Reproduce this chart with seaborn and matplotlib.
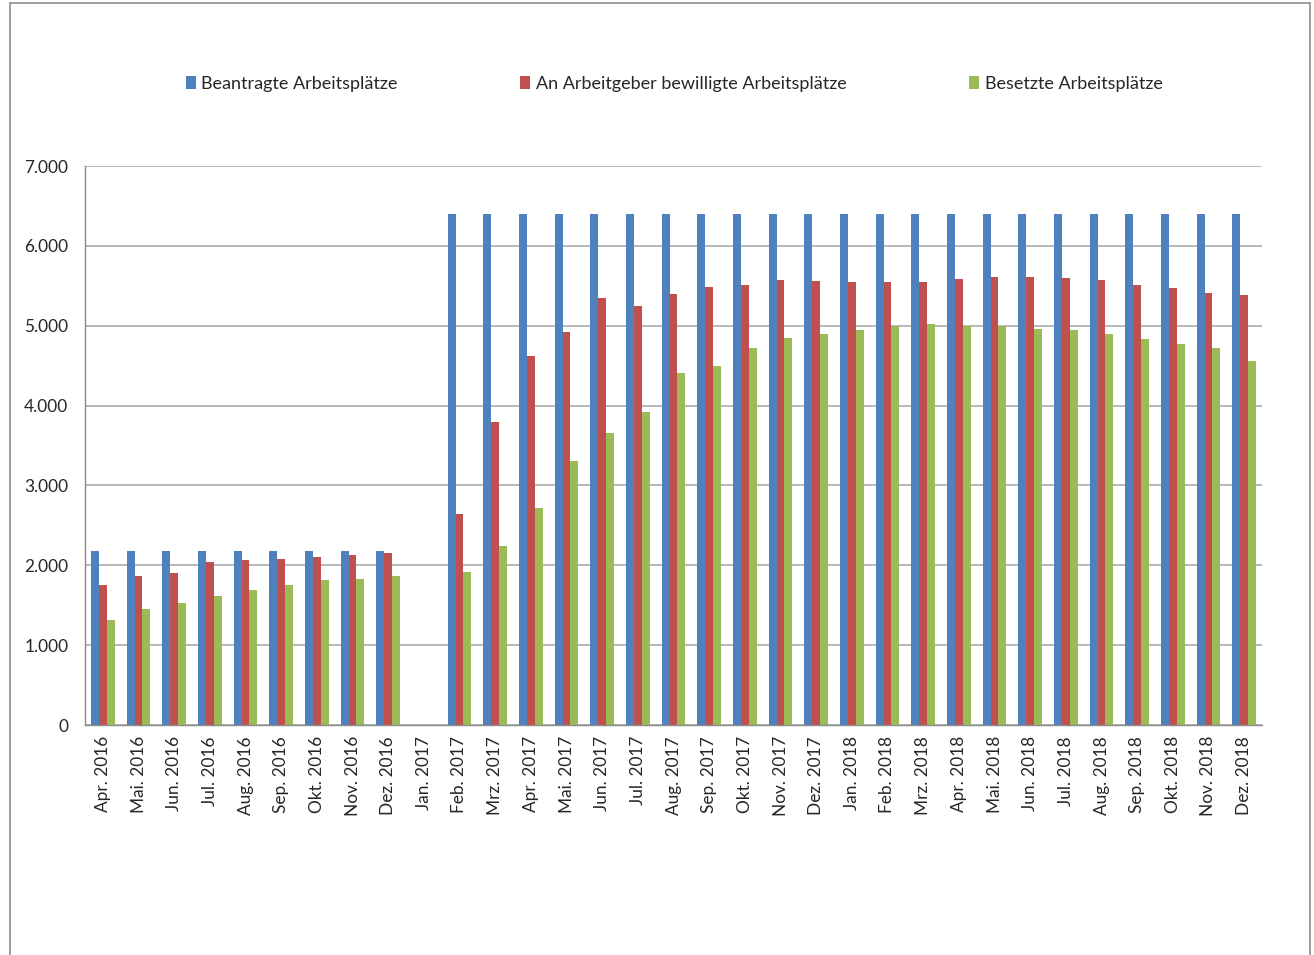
import numpy as np
import pandas as pd
import matplotlib
matplotlib.use("Agg")
import matplotlib.pyplot as plt
from matplotlib.patches import Rectangle
from matplotlib.ticker import FuncFormatter
import seaborn as sns

# months shown on the x axis
months = ["Apr. 2016", "Mai. 2016", "Jun. 2016", "Jul. 2016", "Aug. 2016", "Sep. 2016",
          "Okt. 2016", "Nov. 2016", "Dez. 2016", "Jan. 2017", "Feb. 2017", "Mrz. 2017",
          "Apr. 2017", "Mai. 2017", "Jun. 2017", "Jul. 2017", "Aug. 2017", "Sep. 2017",
          "Okt. 2017", "Nov. 2017", "Dez. 2017", "Jan. 2018", "Feb. 2018", "Mrz. 2018",
          "Apr. 2018", "Mai. 2018", "Jun. 2018", "Jul. 2018", "Aug. 2018", "Sep. 2018",
          "Okt. 2018", "Nov. 2018", "Dez. 2018"]

beantragt = [2180, 2180, 2180, 2180, 2180, 2180, 2180, 2180, 2180, 0,
             6400, 6400, 6400, 6400, 6400, 6400, 6400, 6400, 6400, 6400, 6400,
             6400, 6400, 6400, 6400, 6400, 6400, 6400, 6400, 6400, 6400, 6400, 6400]
bewilligt = [1750, 1870, 1905, 2035, 2065, 2075, 2100, 2135, 2155, 0,
             2640, 3795, 4615, 4920, 5345, 5245, 5395, 5485, 5515, 5570, 5560,
             5550, 5550, 5550, 5580, 5610, 5610, 5600, 5570, 5515, 5470, 5410, 5385]
besetzt = [1320, 1450, 1530, 1615, 1690, 1755, 1810, 1830, 1870, 0,
           1915, 2240, 2715, 3310, 3660, 3925, 4410, 4495, 4725, 4840, 4900,
           4945, 5000, 5020, 5000, 5000, 4965, 4950, 4900, 4835, 4770, 4715, 4555]

series = ["Beantragte Arbeitsplätze", "An Arbeitgeber bewilligte Arbeitsplätze",
          "Besetzte Arbeitsplätze"]
colors = ["#4F81BD", "#C0504D", "#9BBB59"]

df = pd.DataFrame({
    "Monat": months * 3,
    "Wert": beantragt + bewilligt + besetzt,
    "Reihe": [series[0]] * len(months) + [series[1]] * len(months) + [series[2]] * len(months),
})

sns.set_style("white")
plt.rcParams["font.family"] = ["Lato", "DejaVu Sans"]

fig = plt.figure(figsize=(13.14, 9.55), dpi=100)
ax = fig.add_axes([85 / 1314, 1 - 725 / 955, (1262 - 85) / 1314, (725 - 166) / 955])

# outer chart frame
fig.patches.append(Rectangle((10 / 1314, -0.01), 1300 / 1314, 1 - 3 / 955 + 0.01,
                             transform=fig.transFigure, fill=False,
                             edgecolor="#8c8c8c", linewidth=1.2))

sns.barplot(data=df, x="Monat", y="Wert", hue="Reihe", hue_order=series,
            palette=colors, width=0.67, linewidth=0, saturation=1, ax=ax)

ax.set_ylim(0, 7000)
ax.set_xlim(-0.5, len(months) - 0.5)
ax.set_yticks(np.arange(0, 7001, 1000))
ax.yaxis.set_major_formatter(FuncFormatter(lambda v, p: f"{int(v):,}".replace(",", ".")))
ax.grid(axis="y", color="#a6a6a6", linewidth=1.1)
ax.set_axisbelow(True)

ax.set_xticks(np.arange(len(months)))
ax.set_xticklabels(months, rotation=90, fontsize=12.4)
ax.tick_params(axis="x", length=0, pad=8)
ax.set_xticks(np.arange(len(months) + 1) - 0.5, minor=True)
ax.tick_params(axis="x", which="minor", length=6, color="#8c8c8c", width=1)
ax.tick_params(axis="y", length=6, color="#8c8c8c", width=1, labelsize=12.4, pad=6)

for s in ["top", "right"]:
    ax.spines[s].set_visible(False)
for s in ["left", "bottom"]:
    ax.spines[s].set_color("#8c8c8c")
    ax.spines[s].set_linewidth(1)

ax.set_xlabel("")
ax.set_ylabel("")

ax.legend(loc="center", bbox_to_anchor=(0.513, 1 - 84 / 955), bbox_transform=fig.transFigure,
          ncol=3, frameon=False, fontsize=13, handlelength=0.55, handleheight=0.7,
          handletextpad=0.3, columnspacing=6.8)

fig.savefig("out.png", dpi=100)
